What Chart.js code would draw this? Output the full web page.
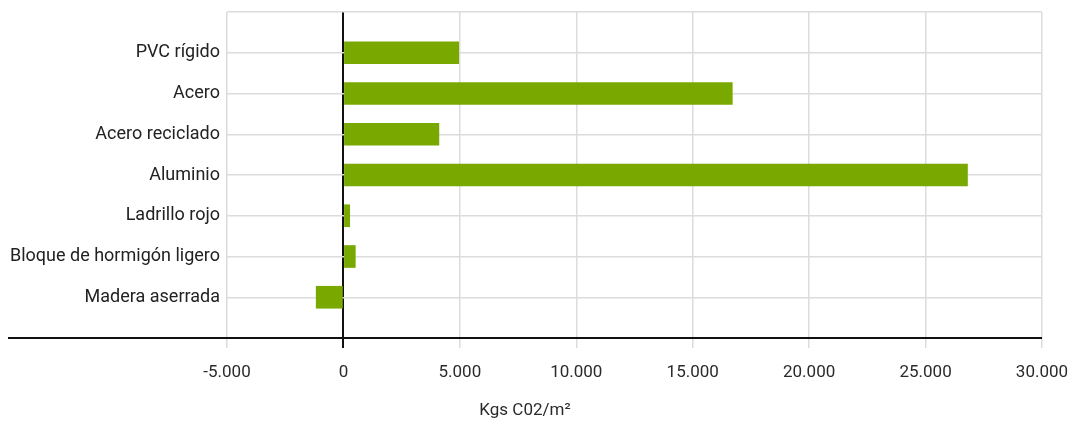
<!DOCTYPE html>
<html>
<head>
<meta charset="utf-8">
<script src="https://cdn.jsdelivr.net/npm/chart.js@4.4.1/dist/chart.umd.min.js"></script>
<style>
  html, body { margin: 0; padding: 0; background: #fff; }
  #wrap { width: 1072px; height: 421px; }
</style>
</head>
<body>
<div id="wrap"><canvas id="barChart"></canvas></div>
<script>
// Kgs CO2 per m2 by material
const categories = ['PVC rígido', 'Acero', 'Acero reciclado', 'Aluminio', 'Ladrillo rojo', 'Bloque de hormigón ligero', 'Madera aserrada'];
const values = [4950, 16700, 4100, 26800, 270, 510, -1170];
const xTicks = [-5000, 0, 5000, 10000, 15000, 20000, 25000, 30000];

// blank slots at both ends so rows sit on the grid lines
const labels = [''].concat(categories, ['']);
const rowData = [null].concat(values, [null]);

function fmt(v) {
  return String(v).replace(/\B(?=(\d{3})+(?!\d))/g, '.');
}

// thick black baseline, runs under the labels too
const baseLine = {
  id: 'baseLine',
  afterDraw(chart) {
    const { ctx, chartArea, scales } = chart;
    ctx.save();
    ctx.strokeStyle = '#111';
    ctx.lineWidth = 2;
    ctx.beginPath();
    ctx.moveTo(scales.y.left, chartArea.bottom);
    ctx.lineTo(chartArea.right, chartArea.bottom);
    ctx.stroke();
    ctx.restore();
  }
};

document.addEventListener('DOMContentLoaded', () => {
  const ctx = document.getElementById('barChart').getContext('2d');
  new Chart(ctx, {
    type: 'bar',
    data: {
      labels,
      datasets: [{
        data: rowData,
        backgroundColor: '#79a900',
        borderWidth: 0,
        barThickness: 22
      }]
    },
    options: {
      indexAxis: 'y',
      responsive: true,
      maintainAspectRatio: false,
      animation: false,
      layout: { padding: { left: 8, right: 30, top: 12, bottom: 0 } },
      scales: {
        x: {
          min: xTicks[0],
          max: xTicks[xTicks.length - 1],
          afterBuildTicks: (scale) => { scale.ticks = xTicks.map(v => ({ value: v })); },
          afterFit: (scale) => {
            scale.height = 54.6;
            scale.paddingLeft = 0;
            scale.paddingRight = 0;
          },
          border: { display: false },
          grid: {
            color: (c) => c.tick && c.tick.value === 0 ? '#111' : '#dcdcdc',
            lineWidth: (c) => c.tick && c.tick.value === 0 ? 2 : 1.5,
            tickLength: 10
          },
          ticks: {
            padding: 15,
            color: '#2a2a2a',
            font: { family: 'Roboto', size: 17 },
            callback: (v) => fmt(v)
          }
        },
        y: {
          offset: false,
          afterFit: (scale) => {
            scale.width = 219;
            scale.paddingTop = 0;
            scale.paddingBottom = 0;
          },
          border: { display: false },
          grid: { color: '#dcdcdc', lineWidth: 1.5, drawTicks: false, offset: false },
          ticks: {
            padding: 7,
            color: '#222',
            font: { family: 'Roboto', size: 18 }
          }
        }
      },
      plugins: {
        legend: { display: false },
        tooltip: { enabled: false },
        title: {
          display: true,
          position: 'bottom',
          text: 'Kgs C02/m²',
          color: '#2a2a2a',
          font: { family: 'Roboto', size: 17, weight: 'normal' },
          padding: { top: 8, bottom: 0 }
        }
      }
    },
    plugins: [baseLine]
  });
});
</script>
</body>
</html>
